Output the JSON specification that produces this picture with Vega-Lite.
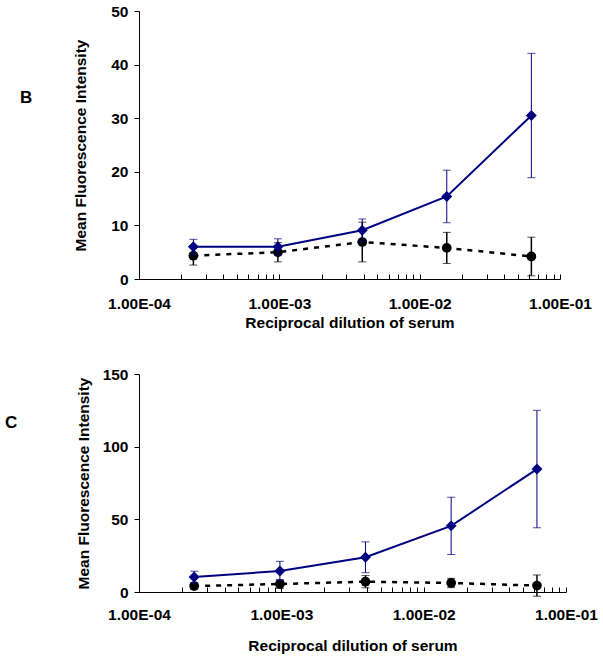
{
  "$schema": "https://vega.github.io/schema/vega-lite/v6.json",
  "autosize": {"type": "pad"},
  "padding": {"left": 5, "top": 4, "right": 5, "bottom": 5},
  "background": "white",
  "bounds": "flush",
  "spacing": 95,
  "config": {
    "font": "Liberation Sans",
    "view": {"stroke": null},
    "axis": {
      "domainColor": "black", "tickColor": "black", "grid": false,
      "labelFont": "Liberation Sans", "labelFontSize": 15.5, "labelFontWeight": "bold", "labelColor": "black",
      "titleFont": "Liberation Sans", "titleFontSize": 15.5, "titleFontWeight": "bold", "titleColor": "black"
    }
  },
  "datasets": {
    "B": [
      {"series": "control", "dilution": 0.000244, "mfi": 4.35, "sd": 1.75},
      {"series": "control", "dilution": 0.000977, "mfi": 5.0, "sd": 1.8},
      {"series": "control", "dilution": 0.0039, "mfi": 6.9, "sd": 3.7},
      {"series": "control", "dilution": 0.0156, "mfi": 5.8, "sd": 2.9},
      {"series": "control", "dilution": 0.0625, "mfi": 4.2, "sd": 3.6},
      {"series": "immune", "dilution": 0.000244, "mfi": 6.0, "sd": 1.4},
      {"series": "immune", "dilution": 0.000977, "mfi": 6.0, "sd": 1.5},
      {"series": "immune", "dilution": 0.0039, "mfi": 9.1, "sd": 2.1},
      {"series": "immune", "dilution": 0.0156, "mfi": 15.4, "sd": 4.9},
      {"series": "immune", "dilution": 0.0625, "mfi": 30.5, "sd": 11.6}
    ],
    "C": [
      {"series": "control", "dilution": 0.000244, "mfi": 4.1, "sd": 2.0},
      {"series": "control", "dilution": 0.000977, "mfi": 5.5, "sd": 3.0},
      {"series": "control", "dilution": 0.0039, "mfi": 7.1, "sd": 4.2},
      {"series": "control", "dilution": 0.0156, "mfi": 6.2, "sd": 3.2},
      {"series": "control", "dilution": 0.0625, "mfi": 4.4, "sd": 7.3},
      {"series": "immune", "dilution": 0.000244, "mfi": 10.3, "sd": 4.0},
      {"series": "immune", "dilution": 0.000977, "mfi": 14.5, "sd": 6.6},
      {"series": "immune", "dilution": 0.0039, "mfi": 23.9, "sd": 10.6},
      {"series": "immune", "dilution": 0.0156, "mfi": 45.5, "sd": 19.7},
      {"series": "immune", "dilution": 0.0625, "mfi": 84.6, "sd": 40.4}
    ]
  },
  "vconcat": [
    {
      "width": 421, "height": 268,
      "title": {"text": "B", "orient": "top", "anchor": "start", "frame": "group", "fontSize": 17, "fontWeight": "bold", "color": "black", "dx": -119, "dy": 103, "offset": 0},
      "data": {"name": "B"},
      "encoding": {
        "x": {"field": "dilution", "type": "quantitative",
          "scale": {"type": "log", "domain": [0.0001, 0.1], "nice": false},
          "axis": {
            "title": "Reciprocal dilution of serum",
            "values": [0.0001,0.0002,0.0003,0.0004,0.0005,0.0006,0.0007,0.0008,0.0009,0.001,0.002,0.003,0.004,0.005,0.006,0.007,0.008,0.009,0.01,0.02,0.03,0.04,0.05,0.06,0.07,0.08,0.09,0.1],
            "labelExpr": "abs(log(datum.value)/LN10 - round(log(datum.value)/LN10)) < 0.001 ? replace(format(datum.value, '.2e'), 'e-', 'E-0') : ''",
            "tickSize": -5,
            "labelPadding": 22, "titlePadding": 4, "labelFlush": false, "labelOverlap": false
          }
        },
        "y": {"field": "mfi", "type": "quantitative",
          "scale": {"domain": [0, 50], "nice": false},
          "axis": {"title": "Mean Fluorescence Intensity", "values": [0,10,20,30,40,50], "tickSize": 5, "labelPadding": 6, "titlePadding": 22}
        }
      },
      "layer": [
        {"transform": [{"filter": "datum.series == 'control'"}],
         "mark": {"type": "line", "color": "black", "strokeWidth": 2.5, "strokeDash": [5, 6]}},
        {"transform": [{"filter": "datum.series == 'control'"}],
         "mark": {"type": "errorbar", "color": "black", "ticks": {"size": 8}, "rule": {"strokeWidth": 1.5}},
         "encoding": {"yError": {"field": "sd"}}},
        {"transform": [{"filter": "datum.series == 'control'"}],
         "mark": {"type": "point", "shape": "circle", "filled": true, "color": "black", "size": 95, "opacity": 1}},
        {"transform": [{"filter": "datum.series == 'immune'"}],
         "mark": {"type": "line", "color": "#000080", "strokeWidth": 2}},
        {"transform": [{"filter": "datum.series == 'immune'"}],
         "mark": {"type": "errorbar", "color": "#000080", "ticks": {"size": 8}, "rule": {"strokeWidth": 1}},
         "encoding": {"yError": {"field": "sd"}}},
        {"transform": [{"filter": "datum.series == 'immune'"}],
         "mark": {"type": "point", "shape": "diamond", "filled": true, "color": "#000080", "size": 120, "opacity": 1}}
      ]
    },
    {
      "width": 427, "height": 218,
      "title": {"text": "C", "orient": "top", "anchor": "start", "frame": "group", "fontSize": 17, "fontWeight": "bold", "color": "black", "dx": -134, "dy": 65, "offset": 0},
      "data": {"name": "C"},
      "encoding": {
        "x": {"field": "dilution", "type": "quantitative",
          "scale": {"type": "log", "domain": [0.0001, 0.1], "nice": false},
          "axis": {
            "title": "Reciprocal dilution of serum",
            "values": [0.0001,0.0002,0.0003,0.0004,0.0005,0.0006,0.0007,0.0008,0.0009,0.001,0.002,0.003,0.004,0.005,0.006,0.007,0.008,0.009,0.01,0.02,0.03,0.04,0.05,0.06,0.07,0.08,0.09,0.1],
            "labelExpr": "abs(log(datum.value)/LN10 - round(log(datum.value)/LN10)) < 0.001 ? replace(format(datum.value, '.2e'), 'e-', 'E-0') : ''",
            "tickSize": -5,
            "labelPadding": 20, "titlePadding": 16, "labelFlush": false, "labelOverlap": false
          }
        },
        "y": {"field": "mfi", "type": "quantitative",
          "scale": {"domain": [0, 150], "nice": false},
          "axis": {"title": "Mean Fluorescence Intensity", "values": [0,50,100,150], "tickSize": 5, "labelPadding": 6, "titlePadding": 11}
        }
      },
      "layer": [
        {"transform": [{"filter": "datum.series == 'control'"}],
         "mark": {"type": "line", "color": "black", "strokeWidth": 2.5, "strokeDash": [5, 6]}},
        {"transform": [{"filter": "datum.series == 'control'"}],
         "mark": {"type": "errorbar", "color": "black", "ticks": {"size": 8}, "rule": {"strokeWidth": 1.5}},
         "encoding": {"yError": {"field": "sd"}}},
        {"transform": [{"filter": "datum.series == 'control'"}],
         "mark": {"type": "point", "shape": "circle", "filled": true, "color": "black", "size": 95, "opacity": 1}},
        {"transform": [{"filter": "datum.series == 'immune'"}],
         "mark": {"type": "line", "color": "#000080", "strokeWidth": 2}},
        {"transform": [{"filter": "datum.series == 'immune'"}],
         "mark": {"type": "errorbar", "color": "#000080", "ticks": {"size": 8}, "rule": {"strokeWidth": 1}},
         "encoding": {"yError": {"field": "sd"}}},
        {"transform": [{"filter": "datum.series == 'immune'"}],
         "mark": {"type": "point", "shape": "diamond", "filled": true, "color": "#000080", "size": 120, "opacity": 1}}
      ]
    }
  ]
}
